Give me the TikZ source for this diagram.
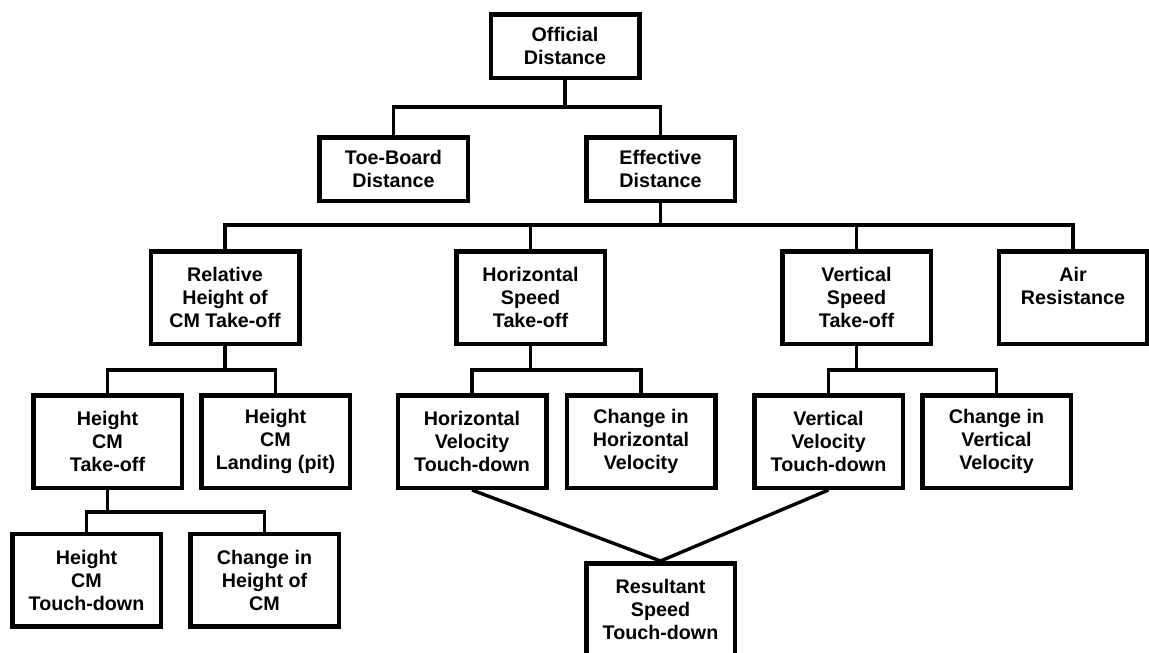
\documentclass[tikz,border=0pt]{standalone}
\usepackage{fontspec}
\setmainfont{Liberation Sans}
\begin{document}
\begin{tikzpicture}[x=1pt,y=-1pt,
  box/.style={draw=black, line width=4.5pt, fill=white, minimum width=148.5pt, minimum height=92.5pt, inner sep=0pt, align=center, font=\bfseries\fontsize{19.7}{23}\selectfont},
  lowbox/.style={box, minimum height=63.5pt},
  conn/.style={line width=3.4pt, line join=miter}]
\useasboundingbox (0,0) rectangle (1149,653);
% nodes
\node[lowbox] (off) at (565,46) {Official\\Distance};
\node[lowbox] (toe) at (393.5,169) {Toe-Board\\Distance};
\node[lowbox] (eff) at (660.5,169) {Effective\\Distance};
\node[box] (rel) at (225,297.5) {Relative\\Height of\\CM Take-off};
\node[box] (hs) at (530.5,297.5) {Horizontal\\Speed\\Take-off};
\node[box] (vs) at (856.5,297.5) {Vertical\\Speed\\Take-off};
\node[box] (air) at (1073,297.5) {Air\\Resistance\\\phantom{Take-off}};
\node[box] (hct) at (107.5,441.5) {Height\\CM\\Take-off};
\node[box] (hcl) at (275.5,441.5) {Height\\CM\\Landing (pit)};
\node[box] (hvt) at (472,441.5) {Horizontal\\Velocity\\Touch-down};
\node[box] (chv) at (641,441.5) {Change in\\Horizontal\\Velocity};
\node[box] (vvt) at (828.5,441.5) {Vertical\\Velocity\\Touch-down};
\node[box] (cvv) at (996.5,441.5) {Change in\\Vertical\\Velocity};
\node[box] (hctd) at (86.5,580) {Height\\CM\\Touch-down};
\node[box] (chc) at (264.5,580) {Change in\\Height of\\CM};
\node[box] (res) at (660.5,609.5) {Resultant\\Speed\\Touch-down};
% bus junctions
\coordinate (b1) at (565,107);
\coordinate (b2) at (660.5,225);
\coordinate (b3) at (225,370);
\coordinate (b4) at (530.5,370);
\coordinate (b5) at (856.5,370);
\coordinate (b6) at (107.5,512);
% connectors
\draw[conn] (off.south) -- (b1);
\draw[conn] (toe.north) |- (b1) -| (eff.north);
\draw[conn] (eff.south) -- (b2);
\draw[conn] (rel.north) |- (b2) -| (air.north);
\draw[conn] (hs.north) |- (b2);
\draw[conn] (vs.north) |- (b2);
\draw[conn] (rel.south) -- (b3);
\draw[conn] (hct.north) |- (b3) -| (hcl.north);
\draw[conn] (hs.south) -- (b4);
\draw[conn] (hvt.north) |- (b4) -| (chv.north);
\draw[conn] (vs.south) -- (b5);
\draw[conn] (vvt.north) |- (b5) -| (cvv.north);
\draw[conn] (hct.south) -- (b6);
\draw[conn] (hctd.north) |- (b6) -| (chc.north);
\draw[conn] (hvt.south) -- (res.north);
\draw[conn] (vvt.south) -- (res.north);
\end{tikzpicture}
\end{document}
